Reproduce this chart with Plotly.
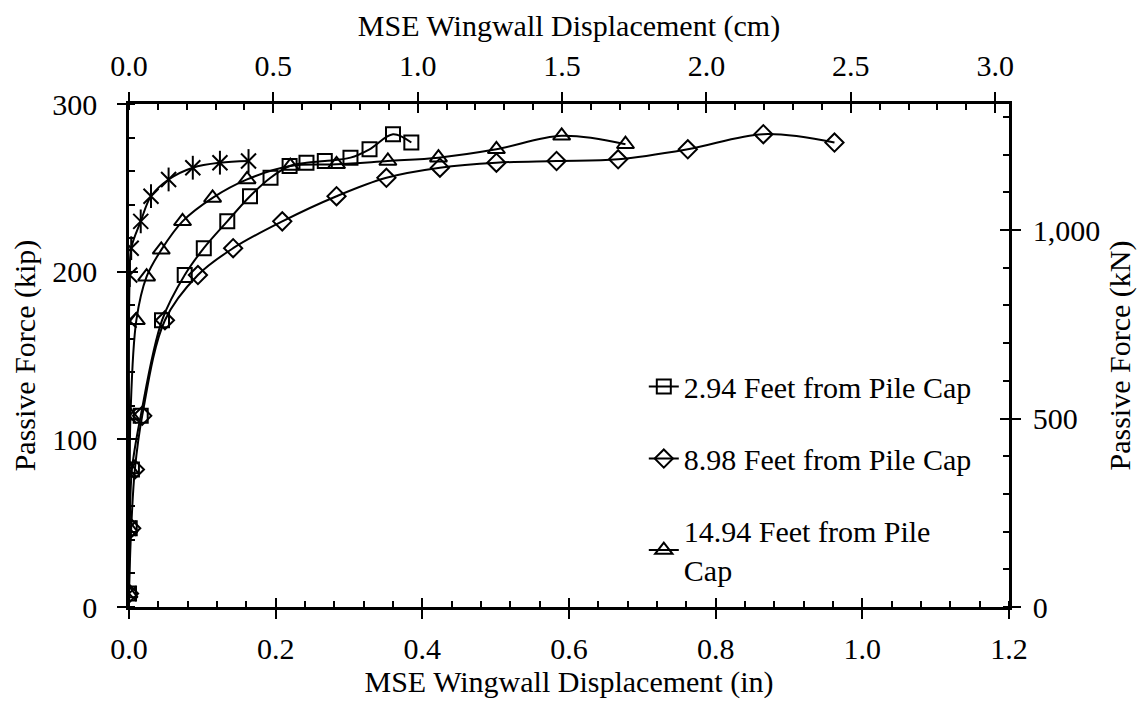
import plotly.graph_objects as go

# MSE wingwall displacement (in) vs passive force (kip)
sq_disp  = [0.0, 0.001, 0.004, 0.016, 0.045, 0.076, 0.102, 0.134, 0.165, 0.193, 0.219, 0.242, 0.267, 0.302, 0.328, 0.360, 0.385]
sq_force = [8, 47, 82, 114, 171, 198, 214, 230, 245, 256, 263, 265, 266, 268, 273, 282, 277]

di_disp  = [0.0, 0.003, 0.008, 0.018, 0.049, 0.094, 0.142, 0.209, 0.283, 0.351, 0.424, 0.501, 0.583, 0.667, 0.762, 0.865, 0.962]
di_force = [8, 47, 82, 114, 171, 198, 214, 230, 245, 256, 262, 265, 266, 267, 273, 282, 277]

tr_disp  = [0.0, 0.0, 0.001, 0.002, 0.010, 0.024, 0.044, 0.073, 0.114, 0.161, 0.220, 0.283, 0.353, 0.422, 0.501, 0.590, 0.677]
tr_force = [8, 47, 82, 114, 171, 197, 213, 230, 244, 255, 263, 264, 266, 268, 273, 281, 276]

st_disp  = [0.0, 0.0, 0.0, 0.0, 0.0, 0.001, 0.003, 0.016, 0.030, 0.054, 0.087, 0.124, 0.163]
st_force = [8, 47, 82, 114, 171, 198, 214, 230, 245, 255, 262, 265, 266]

names = ['2.94 Feet from Pile Cap', '8.98 Feet from Pile Cap', '14.94 Feet from Pile<br>Cap']

IN2CM = 2.54
KIP2KN = 4.448222
XMAX, YMAX = 1.2, 300

FONT = 'Liberation Serif'
FS = 30

fig = go.Figure()

line = dict(color='black', width=2, shape='spline', smoothing=1.0)

def mk(sym, size=12):
    return dict(symbol=sym, size=size, color='black', line=dict(color='black', width=2))

# star series (no legend entry) - X plus vertical bar
fig.add_trace(go.Scatter(x=st_disp, y=st_force, mode='lines+markers', line=line,
                         marker=mk('x-thin-open', 15), showlegend=False, hoverinfo='skip'))
fig.add_trace(go.Scatter(x=st_disp, y=st_force, mode='markers',
                         marker=mk('line-ns-open', 17), showlegend=False, hoverinfo='skip'))

fig.add_trace(go.Scatter(x=sq_disp, y=sq_force, mode='lines+markers', name=names[0],
                         line=line, marker=mk('square-open', 14), legendgroup='a'))
fig.add_trace(go.Scatter(x=di_disp, y=di_force, mode='lines+markers', name=names[1],
                         line=line, marker=mk('diamond-open', 14), legendgroup='b'))
fig.add_trace(go.Scatter(x=tr_disp, y=tr_force, mode='lines+markers', name=names[2],
                         line=line, marker=mk('triangle-up-open', 15), legendgroup='c'))

# dummy traces to bring up the secondary / twin axes
for xa, ya in [('x2', 'y2'), ('x3', 'y3'), ('x4', 'y4')]:
    fig.add_trace(go.Scatter(x=[None], y=[None], xaxis=xa, yaxis=ya, showlegend=False, hoverinfo='skip'))

tickfont = dict(family=FONT, size=FS, color='black')
base = dict(showgrid=False, zeroline=False, automargin=False, tickfont=tickfont, tickcolor='black', tickwidth=2)
minor_kw = dict(ticks='inside', ticklen=6, tickcolor='black', tickwidth=2)

fig.update_layout(
    template='none',
    width=1148, height=707,
    margin=dict(l=121, r=147, t=96, b=108),
    paper_bgcolor='white', plot_bgcolor='white',
    font=dict(family=FONT, size=FS, color='black'),
    xaxis=dict(base, range=[0, XMAX], dtick=0.2, tickformat='.1f',
               showline=True, linecolor='black', linewidth=2.5,
               ticks='outside', ticklen=9, ticklabelstandoff=4,
               minor=dict(minor_kw, dtick=0.04),
               title=dict(text='MSE Wingwall Displacement (in)', font=dict(family=FONT, size=FS), standoff=6)),
    xaxis2=dict(base, range=[0, XMAX * IN2CM], dtick=0.5, tickformat='.1f', overlaying='x', side='top', anchor='y',
                showline=True, linecolor='black', linewidth=2.5,
                ticks='outside', ticklen=9, ticklabelstandoff=4,
                minor=dict(minor_kw, dtick=0.1),
                title=dict(text='MSE Wingwall Displacement (cm)', font=dict(family=FONT, size=FS), standoff=4)),
    xaxis3=dict(base, range=[0, XMAX], dtick=0.2, overlaying='x', side='bottom', anchor='y',
                showline=False, showticklabels=False, ticks='inside', ticklen=9),
    xaxis4=dict(base, range=[0, XMAX * IN2CM], dtick=0.5, overlaying='x', side='top', anchor='y',
                showline=False, showticklabels=False, ticks='inside', ticklen=9),
    yaxis=dict(base, range=[0, YMAX], dtick=100,
               showline=True, linecolor='black', linewidth=2.5,
               ticks='outside', ticklen=9, ticklabelstandoff=14,
               minor=dict(minor_kw, dtick=20),
               title=dict(text='Passive Force (kip)', font=dict(family=FONT, size=FS), standoff=16)),
    yaxis2=dict(base, range=[0, YMAX * KIP2KN], dtick=500, tickformat=',', overlaying='y', side='right', anchor='x',
                showline=True, linecolor='black', linewidth=2.5,
                ticks='outside', ticklen=9, ticklabelstandoff=6,
                minor=dict(minor_kw, dtick=100),
                title=dict(text='Passive Force (kN)', font=dict(family=FONT, size=FS), standoff=10)),
    yaxis3=dict(base, range=[0, YMAX], dtick=100, overlaying='y', side='left', anchor='x',
                showline=False, showticklabels=False, ticks='inside', ticklen=9),
    yaxis4=dict(base, range=[0, YMAX * KIP2KN], dtick=500, overlaying='y', side='right', anchor='x',
                showline=False, showticklabels=False, ticks='inside', ticklen=9),
    legend=dict(x=0.585, y=0.49, xanchor='left', yanchor='top', bgcolor='rgba(0,0,0,0)',
                font=dict(family=FONT, size=FS, color='black'), traceorder='grouped', tracegroupgap=30),
)

fig.write_html('out.html')
